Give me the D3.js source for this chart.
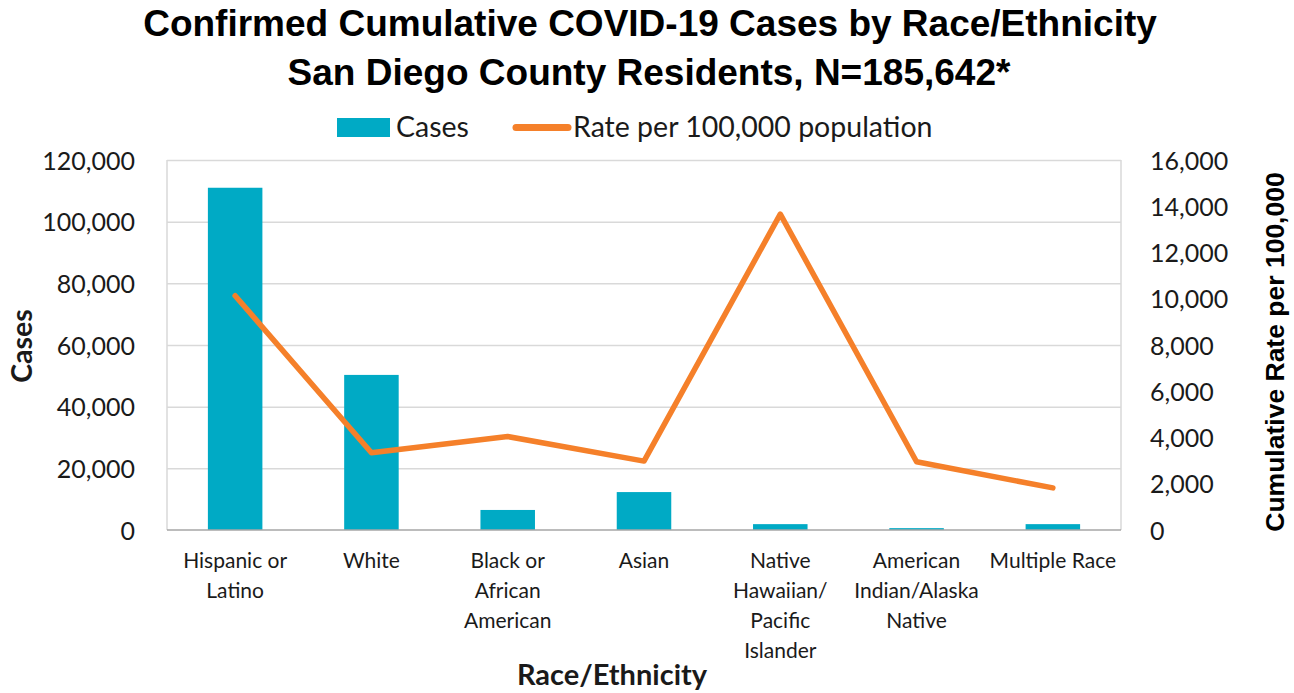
<!DOCTYPE html>
<html>
<head>
<meta charset="utf-8">
<script src="https://cdn.jsdelivr.net/npm/d3@7"></script>
<style>
  html, body { margin: 0; padding: 0; background: #fff; }
  svg { display: block; }
</style>
</head>
<body>
<script>
// Confirmed cumulative COVID-19 cases and rates by race/ethnicity
const categories = [
  ["Hispanic or", "Latino"],
  ["White"],
  ["Black or", "African", "American"],
  ["Asian"],
  ["Native", "Hawaiian/", "Pacific", "Islander"],
  ["American", "Indian/Alaska", "Native"],
  ["Multiple Race"]
];
const cases = [111000, 50300, 6500, 12300, 1900, 600, 1900];
const ratePer100k = [10130, 3340, 4040, 2980, 13660, 2950, 1820];
const casesTicks = [0, 20000, 40000, 60000, 80000, 100000, 120000];
const rateTicks = [0, 2000, 4000, 6000, 8000, 10000, 12000, 14000, 16000];

const W = 1294, H = 693;
const m = { left: 167, right: 1121, top: 160, bottom: 530 };
const BAR = "#00aac5", LINE = "#f5802a", GRID = "#d9d9d9", TXT = "#1a1a1a";
const tickFont = "Lato, 'Open Sans', sans-serif";
const arial = "'Liberation Sans', Arial, sans-serif";

const svg = d3.select("body").append("svg").attr("width", W).attr("height", H);

const keys = categories.map((c, i) => i);
const x = d3.scaleBand().domain(keys).range([m.left, m.right])
  .paddingInner(0.6).paddingOuter(0.3);
const yL = d3.scaleLinear().domain([0, 120000]).range([m.bottom, m.top]);
const yR = d3.scaleLinear().domain([0, 16000]).range([m.bottom, m.top]);
const fmt = d3.format(",");

// Title
const title = svg.append("g").attr("font-family", arial)
  .attr("font-weight", "bold").attr("font-size", 37).attr("text-anchor", "middle").attr("fill", "#000");
title.append("text").attr("x", 650).attr("y", 36).text("Confirmed Cumulative COVID-19 Cases by Race/Ethnicity");
title.append("text").attr("x", 649).attr("y", 85).text("San Diego County Residents, N=185,642*");

// Gridlines and plot frame
svg.append("g")
  .attr("transform", `translate(${m.left},0)`)
  .call(d3.axisLeft(yL).tickValues(casesTicks.slice(1)).tickSize(-(m.right - m.left)).tickFormat(""))
  .call(g => g.select(".domain").remove())
  .call(g => g.selectAll("line").attr("stroke", GRID).attr("stroke-width", 1.5));
svg.append("line").attr("x1", m.left).attr("x2", m.left).attr("y1", m.top).attr("y2", m.bottom)
  .attr("stroke", GRID).attr("stroke-width", 1.5);
svg.append("line").attr("x1", m.right).attr("x2", m.right).attr("y1", m.top).attr("y2", m.bottom)
  .attr("stroke", GRID).attr("stroke-width", 1.5);

// Bars
svg.append("g").selectAll("rect").data(cases).join("rect")
  .attr("x", (d, i) => x(i)).attr("width", x.bandwidth())
  .attr("y", d => yL(d)).attr("height", d => yL(0) - yL(d))
  .attr("fill", BAR);

// Bottom axis line
svg.append("line").attr("x1", m.left).attr("x2", m.right).attr("y1", m.bottom).attr("y2", m.bottom)
  .attr("stroke", "#a6a6a6").attr("stroke-width", 1.5);

// Rate line
const line = d3.line().x((d, i) => x(i) + x.bandwidth() / 2).y(d => yR(d));
svg.append("path").datum(ratePer100k).attr("d", line)
  .attr("fill", "none").attr("stroke", LINE).attr("stroke-width", 5.5)
  .attr("stroke-linejoin", "round").attr("stroke-linecap", "round");

// Left axis
svg.append("g").attr("transform", `translate(${m.left - 29},0)`)
  .call(d3.axisLeft(yL).tickValues(casesTicks).tickSize(0).tickFormat(fmt))
  .call(g => g.select(".domain").remove())
  .call(g => g.selectAll("text").attr("font-family", tickFont).attr("font-size", 25).attr("fill", TXT).attr("dy", "0.36em"));

// Right axis
svg.append("g").attr("transform", `translate(${m.right + 26},0)`)
  .call(d3.axisRight(yR).tickValues(rateTicks).tickSize(0).tickFormat(fmt))
  .call(g => g.select(".domain").remove())
  .call(g => g.selectAll("text").attr("font-family", tickFont).attr("font-size", 25).attr("fill", TXT).attr("dy", "0.36em"));

// Category labels
const cat = svg.append("g").attr("font-family", tickFont).attr("font-size", 21)
  .attr("fill", TXT).attr("text-anchor", "middle");
categories.forEach((lines, i) => {
  const t = cat.append("text").attr("x", x(i) + x.bandwidth() / 2).attr("y", 568);
  lines.forEach((s, j) => t.append("tspan").attr("x", x(i) + x.bandwidth() / 2).attr("dy", j ? 30 : 0).text(s));
});

// Axis titles
svg.append("text").attr("transform", "translate(32,346) rotate(-90)")
  .attr("text-anchor", "middle").attr("font-family", tickFont).attr("font-weight", "bold")
  .attr("font-size", 28.5).attr("fill", TXT).text("Cases");
svg.append("text").attr("transform", "translate(1284,352) rotate(-90)")
  .attr("text-anchor", "middle").attr("font-family", arial).attr("font-weight", "bold")
  .attr("font-size", 26.5).attr("fill", "#000").text("Cumulative Rate per 100,000");
svg.append("text").attr("x", 612).attr("y", 685)
  .attr("text-anchor", "middle").attr("font-family", tickFont).attr("font-weight", "bold")
  .attr("font-size", 29).attr("fill", TXT).text("Race/Ethnicity");

// Legend
const leg = svg.append("g").attr("font-family", tickFont).attr("font-size", 28.5).attr("fill", TXT);
leg.append("rect").attr("x", 337).attr("y", 118).attr("width", 53).attr("height", 19).attr("fill", BAR);
leg.append("text").attr("x", 396).attr("y", 137).text("Cases");
leg.append("line").attr("x1", 516).attr("x2", 568).attr("y1", 127.5).attr("y2", 127.5)
  .attr("stroke", LINE).attr("stroke-width", 7).attr("stroke-linecap", "round");
leg.append("text").attr("x", 573).attr("y", 137).text("Rate per 100,000 population");
</script>
</body>
</html>
